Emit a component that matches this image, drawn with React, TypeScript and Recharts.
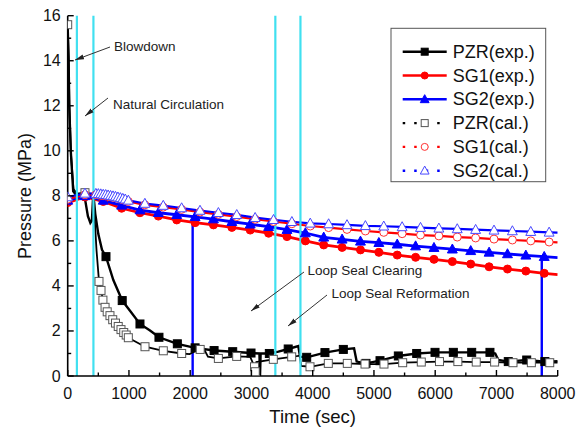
import { ComposedChart, Line, XAxis, YAxis, ReferenceLine } from 'recharts';

const FONT = '"Liberation Sans", Arial, sans-serif';

const xTicks = [0, 500, 1000, 1500, 2000, 2500, 3000, 3500, 4000, 4500, 5000, 5500, 6000, 6500, 7000, 7500, 8000];
const yTicks = [0, 1, 2, 3, 4, 5, 6, 7, 8, 9, 10, 11, 12, 13, 14, 15, 16];

// vertical event markers (cyan)
const eventTimes = [150, 420, 3390, 3800];

// PZR experiment: line path and marker points
const pzrExpPath = [
  [0, 15.5], [15, 14.0], [25, 12.0], [50, 10.0], [90, 8.2], [150, 8.0], [280, 7.9], [330, 7.1], [370, 6.8],
  [395, 6.9], [418, 8.1], [450, 7.2], [500, 6.3], [560, 5.6], [625, 5.3], [745, 4.26], [890, 3.35], [1017, 2.9],
  [1180, 2.31], [1344, 2.02], [1490, 1.72], [1790, 1.43], [2080, 1.25], [2390, 1.13], [2694, 1.08], [2993, 1.02],
  [3130, 1.0], [3140, 0], [3150, 1.0], [3292, 1.0], [3440, 1.08], [3600, 1.2], [3765, 1.33], [3793, 0.86],
  [3902, 0.83], [4200, 1.04], [4500, 1.18], [4675, 1.23], [4718, 0.64], [4870, 0.56], [5099, 0.68], [5398, 0.89],
  [5698, 1.0], [5997, 1.05], [6296, 1.05], [6596, 1.05], [6894, 1.05], [6980, 1.0], [7030, 0.71], [7193, 0.64],
  [7494, 0.71], [7791, 0.64], [8000, 0.66],
];
const pzrExpMarks = [
  [625, 5.3], [890, 3.35], [1180, 2.31], [1490, 1.72], [1790, 1.43], [2080, 1.25], [2390, 1.13], [2694, 1.08],
  [2993, 1.02], [3292, 1.0], [3600, 1.2], [3902, 0.83], [4200, 1.04], [4500, 1.18], [4870, 0.56], [5099, 0.68],
  [5398, 0.89], [5698, 1.0], [5997, 1.05], [6296, 1.05], [6596, 1.05], [6894, 1.05], [7193, 0.64], [7494, 0.71],
  [7791, 0.64],
];

// PZR calculation
const pzrCalPath = [
  [0, 15.6], [15, 14.2], [28, 12.0], [55, 9.8], [95, 8.3], [150, 8.1], [282, 8.14], [420, 8.0], [470, 5.6],
  [511, 4.2], [544, 3.8], [575, 3.37], [610, 3.05], [645, 2.85], [690, 2.68], [735, 2.5], [780, 2.35], [825, 2.2],
  [870, 2.06], [915, 1.93], [955, 1.82], [990, 1.7], [1262, 1.3], [1561, 1.12], [1861, 1.0], [1990, 0.97],
  [2080, 1.1], [2163, 1.18], [2240, 1.12], [2290, 0.86], [2460, 0.78], [2759, 0.87], [2980, 0.85], [3050, 0.41],
  [3062, 0.19], [3080, 0.62], [3357, 0.74], [3657, 0.85], [3790, 0.9], [3810, 0.45], [3956, 0.41], [4255, 0.56],
  [4565, 0.56], [4854, 0.53], [5164, 0.53], [5469, 0.59], [5773, 0.62], [6070, 0.64], [6370, 0.64], [6670, 0.62],
  [6970, 0.62], [7270, 0.59], [7570, 0.59], [7870, 0.59], [8000, 0.6],
];
const pzrCalMarks = [
  [0, 15.6], [282, 8.14], [511, 4.2], [544, 3.8], [575, 3.37], [610, 3.05], [645, 2.85], [690, 2.68], [735, 2.5],
  [780, 2.35], [825, 2.2], [870, 2.06], [915, 1.93], [955, 1.82], [990, 1.7], [1262, 1.3], [1561, 1.12],
  [1861, 1.0], [2163, 1.18], [2460, 0.78], [2759, 0.87], [3050, 0.41], [3062, 0.19], [3357, 0.74], [3657, 0.85],
  [3956, 0.41], [4255, 0.56], [4565, 0.56], [4854, 0.53], [5164, 0.53], [5469, 0.59], [5773, 0.62], [6070, 0.64],
  [6370, 0.64], [6670, 0.62], [6970, 0.62], [7270, 0.59], [7570, 0.59], [7870, 0.59],
];

// steam generators, experiment
const sgExpTimes = [0, 280, 580, 880, 1180, 1480, 1780, 2080, 2380, 2680, 2980, 3280, 3580, 3880, 4180, 4480, 4780,
  5080, 5380, 5680, 5980, 6280, 6580, 6880, 7180, 7480, 7780, 8000];
const sg1Exp = [7.7, 7.95, 7.75, 7.45, 7.25, 7.1, 6.93, 6.81, 6.71, 6.6, 6.48, 6.34, 6.19, 6.0, 5.82, 5.71, 5.6,
  5.49, 5.37, 5.27, 5.18, 5.08, 4.97, 4.85, 4.75, 4.66, 4.56, 4.5];
const sg2Exp = [7.8, 8.0, 7.8, 7.58, 7.37, 7.25, 7.16, 7.07, 6.97, 6.85, 6.74, 6.63, 6.5, 6.35, 6.16, 6.07, 5.98,
  5.92, 5.85, 5.77, 5.7, 5.63, 5.56, 5.49, 5.42, 5.36, 5.3, 5.26];
// signal drop-outs in SG2 measurement
const sg2ExpDrops = [{ t: 2040, top: 7.05 }, { t: 7740, top: 5.3 }];

// steam generators, calculation
const sgCalTimes = [0, 282, 460, 500, 540, 580, 620, 660, 700, 740, 780, 820, 860, 900, 940, 990, 1260, 1560, 1860,
  2160, 2460, 2760, 3060, 3360, 3660, 3960, 4260, 4560, 4860, 5160, 5460, 5760, 6060, 6360, 6660, 6960, 7260, 7560,
  7860, 8000];
const sg1Cal = [7.85, 8.05, 8.05, 8.04, 8.03, 8.01, 8.0, 7.98, 7.96, 7.94, 7.92, 7.89, 7.86, 7.83, 7.8, 7.75, 7.6,
  7.5, 7.4, 7.28, 7.18, 7.08, 6.96, 6.86, 6.76, 6.66, 6.59, 6.51, 6.44, 6.38, 6.32, 6.26, 6.22, 6.17, 6.13, 6.08,
  6.04, 6.0, 5.95, 5.93];
const sg2Cal = [7.95, 8.11, 8.1, 8.09, 8.08, 8.06, 8.05, 8.03, 8.01, 7.99, 7.97, 7.94, 7.91, 7.88, 7.85, 7.8, 7.66,
  7.57, 7.46, 7.35, 7.25, 7.16, 7.03, 6.94, 6.85, 6.78, 6.75, 6.71, 6.67, 6.65, 6.62, 6.59, 6.56, 6.53, 6.5, 6.47,
  6.44, 6.41, 6.38, 6.37];

const toPts = (rows: number[][]) => rows.map(([t, p]) => ({ t, p }));
const zip = (ts: number[], ps: number[]) => ts.map((t, i) => ({ t, p: ps[i] }));

type Shape = 'square' | 'circle' | 'triangle';

const legendItems: { name: string; color: string; shape: Shape; open: boolean }[] = [
  { name: 'PZR(exp.)', color: '#000000', shape: 'square', open: false },
  { name: 'SG1(exp.)', color: '#ff0000', shape: 'circle', open: false },
  { name: 'SG2(exp.)', color: '#0000ff', shape: 'triangle', open: false },
  { name: 'PZR(cal.)', color: '#000000', shape: 'square', open: true },
  { name: 'SG1(cal.)', color: '#ff0000', shape: 'circle', open: true },
  { name: 'SG2(cal.)', color: '#0000ff', shape: 'triangle', open: true },
];

function Marker({ shape, cx, cy, size, color, open }: any) {
  const fill = open ? '#fff' : color;
  const stroke = open ? (shape === 'square' ? '#555' : shape === 'circle' ? '#ff3030' : '#4848ff') : color;
  const s = size;
  if (shape === 'square')
    return <rect x={cx - s / 2} y={cy - s / 2} width={s} height={s} fill={fill} stroke={stroke} strokeWidth={1} />;
  if (shape === 'circle') return <circle cx={cx} cy={cy} r={s / 2} fill={fill} stroke={stroke} strokeWidth={1} />;
  return (
    <polygon
      points={`${cx},${cy - s * 0.58} ${cx - s * 0.55},${cy + s * 0.42} ${cx + s * 0.55},${cy + s * 0.42}`}
      fill={fill}
      stroke={stroke}
      strokeWidth={1}
    />
  );
}

const dotFor = (id: string, shape: Shape, color: string, open: boolean, size: number) => (props: any) => {
  const { cx, cy, payload, index } = props;
  if (cx == null || cy == null || payload.t >= 8000) return <g key={`${id}-${index}`} />;
  return (
    <g key={`${id}-${index}`}>
      <Marker shape={shape} cx={cx} cy={cy} size={size} color={color} open={open} />
    </g>
  );
};

const tickText = { fontSize: 16, fontFamily: FONT, fill: '#111' };

const BottomTick = (props: any) => {
  const { x, y, payload } = props;
  const major = payload.value % 1000 === 0;
  return (
    <g>
      <line x1={x} x2={x} y1={y} y2={y - (major ? 6 : 3.5)} stroke="#000" strokeWidth={1.4} />
      {major && (
        <text x={x} y={y + 17} textAnchor="middle" dominantBaseline="central" {...tickText}>
          {payload.value}
        </text>
      )}
    </g>
  );
};

const TopTick = (props: any) => {
  const { x, y, payload } = props;
  const major = payload.value % 1000 === 0;
  return <line x1={x} x2={x} y1={y} y2={y + (major ? 6 : 4)} stroke="#000" strokeWidth={1.4} />;
};

const LeftTick = (props: any) => {
  const { x, y, payload } = props;
  const major = payload.value % 2 === 0;
  return (
    <g>
      <line x1={x} x2={x + (major ? 6 : 3.5)} y1={y} y2={y} stroke="#000" strokeWidth={1.4} />
      {major && (
        <text x={x - 7} y={y} textAnchor="end" dominantBaseline="central" {...tickText}>
          {payload.value}
        </text>
      )}
    </g>
  );
};

const RightTick = (props: any) => {
  const { x, y, payload } = props;
  const major = payload.value % 2 === 0;
  return <line x1={x} x2={x - (major ? 6 : 4)} y1={y} y2={y} stroke="#000" strokeWidth={1.4} />;
};

const annotations = [
  { text: 'Blowdown', tx: 114, ty: 46.5, from: [110, 47], to: [75, 60] },
  { text: 'Natural Circulation', tx: 113, ty: 104, from: [108, 98], to: [85, 116] },
  { text: 'Loop Seal Clearing', tx: 307.5, ty: 270, from: [304, 272], to: [251, 311] },
  { text: 'Loop Seal Reformation', tx: 331.5, ty: 293.5, from: [327, 295], to: [288, 326] },
];

export default function App() {
  const axisLine = { stroke: '#000', strokeWidth: 1.6 };
  return (
    <div style={{ position: 'absolute', left: 0, top: 0, width: 584, height: 432, background: '#fff' }}>
      <ComposedChart width={584} height={432} margin={{ top: 15.7, right: 26.3, bottom: 0, left: 0 }}>
        <XAxis
          xAxisId="b"
          dataKey="t"
          type="number"
          domain={[0, 8000]}
          allowDataOverflow
          ticks={xTicks}
          interval={0}
          height={56}
          tickSize={0}
          tickMargin={0}
          tickLine={false}
          axisLine={axisLine}
          tick={<BottomTick />}
        />
        <XAxis
          xAxisId="t"
          orientation="top"
          dataKey="t"
          type="number"
          domain={[0, 8000]}
          allowDataOverflow
          ticks={xTicks}
          interval={0}
          height={0}
          tickSize={0}
          tickMargin={0}
          tickLine={false}
          axisLine={axisLine}
          tick={<TopTick />}
        />
        <YAxis
          yAxisId="l"
          type="number"
          domain={[0, 16]}
          allowDataOverflow
          ticks={yTicks}
          interval={0}
          width={67.7}
          tickSize={0}
          tickMargin={0}
          tickLine={false}
          axisLine={axisLine}
          tick={<LeftTick />}
        />
        <YAxis
          yAxisId="r"
          orientation="right"
          type="number"
          domain={[0, 16]}
          allowDataOverflow
          ticks={yTicks}
          interval={0}
          width={0}
          tickSize={0}
          tickMargin={0}
          tickLine={false}
          axisLine={axisLine}
          tick={<RightTick />}
        />

        <Line xAxisId="b" yAxisId="l" data={toPts(pzrExpPath)} dataKey="p" stroke="#000" strokeWidth={2.4}
          dot={false} isAnimationActive={false} type="linear" />
        <Line xAxisId="b" yAxisId="l" data={toPts(pzrExpMarks)} dataKey="p" stroke="none"
          dot={dotFor('pe', 'square', '#000', false, 8)} isAnimationActive={false} />
        <Line xAxisId="b" yAxisId="l" data={zip(sgExpTimes, sg1Exp)} dataKey="p" stroke="#ff0000" strokeWidth={2.8}
          dot={dotFor('s1e', 'circle', '#ff0000', false, 8)} isAnimationActive={false} type="linear" />
        <Line xAxisId="b" yAxisId="l" data={zip(sgExpTimes, sg2Exp)} dataKey="p" stroke="#0000ff" strokeWidth={2.8}
          dot={dotFor('s2e', 'triangle', '#0000ff', false, 9)} isAnimationActive={false} type="linear" />
        {sg2ExpDrops.map((d) => (
          <Line key={`drop-${d.t}`} xAxisId="b" yAxisId="l" data={[{ t: d.t, p: d.top }, { t: d.t, p: 0 }]}
            dataKey="p" stroke="#0000ff" strokeWidth={2.4} dot={false} isAnimationActive={false} />
        ))}
        <Line xAxisId="b" yAxisId="l" data={toPts(pzrCalPath)} dataKey="p" stroke="#000" strokeWidth={1.8}
          dot={false} isAnimationActive={false} type="linear" />
        <Line xAxisId="b" yAxisId="l" data={toPts(pzrCalMarks)} dataKey="p" stroke="none"
          dot={dotFor('pc', 'square', '#000', true, 8)} isAnimationActive={false} />
        <Line xAxisId="b" yAxisId="l" data={zip(sgCalTimes, sg1Cal)} dataKey="p" stroke="#ff0000" strokeWidth={2.2}
          dot={dotFor('s1c', 'circle', '#ff0000', true, 8)} isAnimationActive={false} type="linear" />
        <Line xAxisId="b" yAxisId="l" data={zip(sgCalTimes, sg2Cal)} dataKey="p" stroke="#0000ff" strokeWidth={2.2}
          dot={dotFor('s2c', 'triangle', '#0000ff', true, 9)} isAnimationActive={false} type="linear" />

        {eventTimes.map((t) => (
          <ReferenceLine key={`ev-${t}`} xAxisId="b" yAxisId="l" x={t} stroke="#40e0f0" strokeWidth={2.2} />
        ))}
      </ComposedChart>

      <svg width={584} height={432} style={{ position: 'absolute', left: 0, top: 0, pointerEvents: 'none' }}>
        <defs>
          <marker id="ah" markerWidth={9} markerHeight={6} refX={9} refY={3} orient="auto" markerUnits="userSpaceOnUse">
            <path d="M0,0.6 L9,3 L0,5.4 z" fill="#222" />
          </marker>
        </defs>

        {annotations.map((a) => (
          <g key={a.text}>
            <line x1={a.from[0]} y1={a.from[1]} x2={a.to[0]} y2={a.to[1]} stroke="#333" strokeWidth={1}
              markerEnd="url(#ah)" />
            <text x={a.tx} y={a.ty} dominantBaseline="central" fontSize={13.5} fontFamily={FONT} fill="#222">
              {a.text}
            </text>
          </g>
        ))}

        <text x={25} y={196} transform="rotate(-90 25 196)" textAnchor="middle" dominantBaseline="central"
          fontSize={18} fontFamily={FONT} fill="#111">
          Pressure (MPa)
        </text>
        <text x={312.7} y={416} textAnchor="middle" dominantBaseline="central" fontSize={18.5} fontFamily={FONT}
          fill="#111">
          Time (sec)
        </text>

        <rect x={391} y={28.3} width={154.7} height={153.4} fill="#fff" stroke="#555" strokeWidth={1} />
        {legendItems.map((it, i) => {
          const cy = 51.7 + 23.8 * i;
          return (
            <g key={it.name}>
              <line x1={402.7} x2={446.7} y1={cy} y2={cy} stroke={it.color} strokeWidth={it.open ? 2.4 : 2.6}
                strokeDasharray={it.open ? '2.5 9' : undefined} />
              <Marker shape={it.shape} cx={424.7} cy={cy} size={it.shape === 'triangle' ? 8 : 7} color={it.color}
                open={it.open} />
              <text x={452.7} y={cy} dominantBaseline="central" fontSize={18} fontFamily={FONT} fill="#111">
                {it.name}
              </text>
            </g>
          );
        })}
      </svg>
    </div>
  );
}
